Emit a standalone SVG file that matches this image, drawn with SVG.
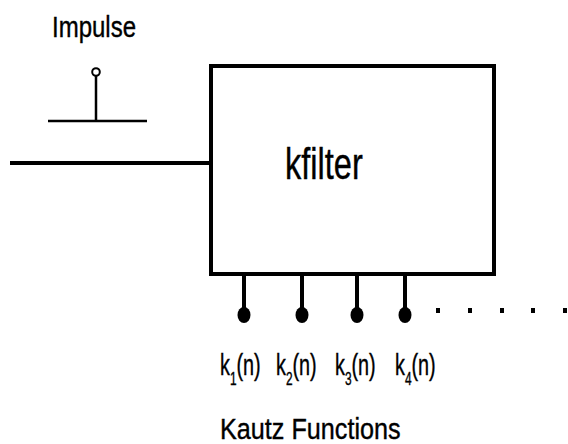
<svg xmlns="http://www.w3.org/2000/svg" width="568" height="444" viewBox="0 0 568 444">
<style>
.t{font-family:"Liberation Sans",Arial,sans-serif;fill:#000;stroke:#000;stroke-width:0.4}
.ln{stroke:#000;fill:none;stroke-linecap:butt}
.dot{fill:#000}
</style>
<rect width="568" height="444" fill="#fff"/>
<g id="impulse">
<text class="t" font-size="30" transform="translate(52,37) scale(0.8,1)">Impulse</text>
<line class="ln" x1="48" y1="121" x2="147" y2="121" stroke-width="2.5"/>
<line class="ln" x1="96" y1="76" x2="96" y2="121" stroke-width="2.5"/>
<circle cx="96" cy="72" r="3.8" fill="#fff" stroke="#000" stroke-width="2"/>
</g>
<g id="kfilter">
<rect x="211" y="66" width="283" height="208" fill="#fff" stroke="#000" stroke-width="4"/>
<text class="t" font-size="44" transform="translate(285,179) scale(0.74,1)">kfilter</text>
</g>
<g id="connectors">
<line class="ln" x1="10" y1="163" x2="211" y2="163" stroke-width="4"/>
<line class="ln" x1="244" y1="274" x2="244" y2="315" stroke-width="4"/>
<line class="ln" x1="302" y1="274" x2="302" y2="315" stroke-width="4"/>
<line class="ln" x1="357" y1="274" x2="357" y2="315" stroke-width="4"/>
<line class="ln" x1="405" y1="274" x2="405" y2="315" stroke-width="4"/>
</g>
<g id="outputs">
<ellipse class="dot" cx="244" cy="315" rx="6.5" ry="8"/>
<ellipse class="dot" cx="302" cy="315" rx="6.5" ry="8"/>
<ellipse class="dot" cx="357" cy="315" rx="6.5" ry="8"/>
<ellipse class="dot" cx="405" cy="315" rx="6.5" ry="8"/>
<rect class="dot" x="436" y="308" width="4" height="5"/>
<rect class="dot" x="468" y="308" width="4" height="5"/>
<rect class="dot" x="500" y="308" width="4" height="5"/>
<rect class="dot" x="531" y="308" width="4" height="5"/>
<rect class="dot" x="563" y="308" width="4" height="5"/>
</g>
<g id="labels">
<text class="t" font-size="30" transform="translate(220,375) scale(0.66,1)">k<tspan font-size="18" dy="10">1</tspan><tspan dy="-10">(n)</tspan></text>
<text class="t" font-size="30" transform="translate(276,375) scale(0.66,1)">k<tspan font-size="18" dy="10">2</tspan><tspan dy="-10">(n)</tspan></text>
<text class="t" font-size="30" transform="translate(335,375) scale(0.66,1)">k<tspan font-size="18" dy="10">3</tspan><tspan dy="-10">(n)</tspan></text>
<text class="t" font-size="30" transform="translate(395,375) scale(0.66,1)">k<tspan font-size="18" dy="10">4</tspan><tspan dy="-10">(n)</tspan></text>
<text class="t" font-size="30" transform="translate(220,439) scale(0.84,1)">Kautz Functions</text>
</g>
</svg>
